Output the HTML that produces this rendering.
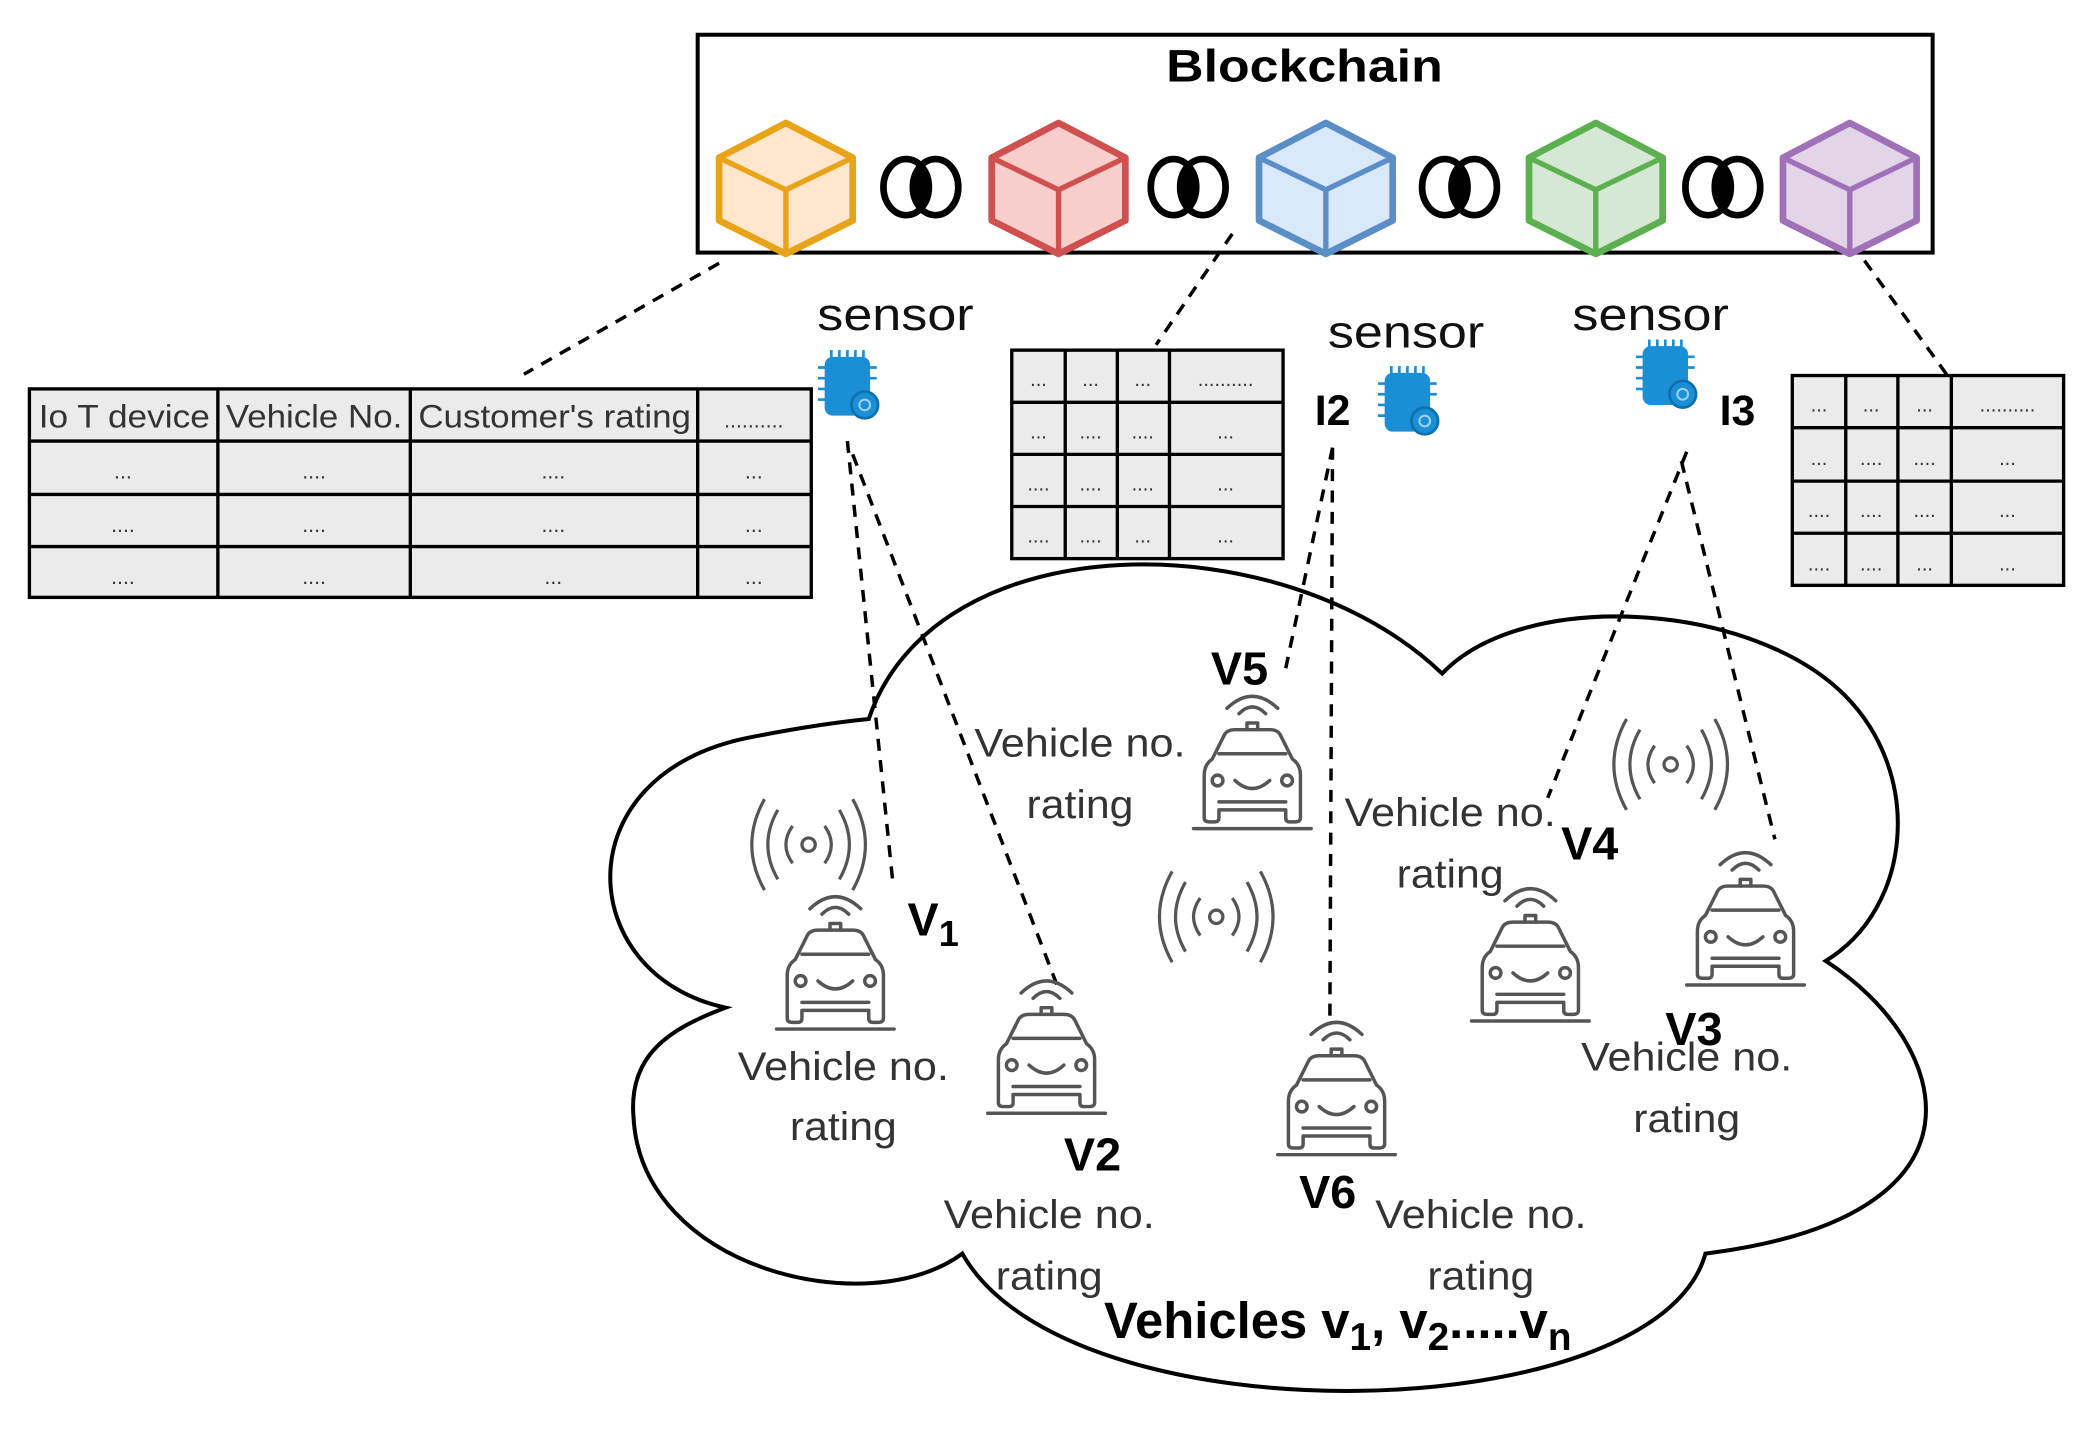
<!DOCTYPE html>
<html><head><meta charset="utf-8"><style>
html,body{margin:0;padding:0;background:#fff}
svg{display:block}
text{font-family:"Liberation Sans",Arial,sans-serif}
</style></head><body>
<svg width="2085" height="1434" viewBox="0 0 1560 1073" preserveAspectRatio="none" xmlns="http://www.w3.org/2000/svg">
<defs>
<g id="cube">
<path d="M0,-50 L50,-24 L50,23 L0,48 L-50,23 L-50,-24 Z" stroke-width="5" stroke-linejoin="round"/>
<path d="M-50,-24 L0,0 L50,-24 M0,0 L0,48" fill="none" stroke-width="4"/>
</g>
<g id="link">
<ellipse cx="-11" cy="0" rx="17" ry="21" fill="none" stroke="#000" stroke-width="5"/>
<ellipse cx="11" cy="0" rx="17" ry="21" fill="none" stroke="#000" stroke-width="5"/>
<path d="M0,-16 Q8,0 0,16 Q-8,0 0,-16Z" fill="#000"/>
</g>
<g id="car" fill="none" stroke="#555" stroke-width="2.6" stroke-linecap="round" stroke-linejoin="round">
<line x1="-44" y1="0" x2="44" y2="0"/>
<path d="M-36,-8 L-36,-40 Q-36,-48 -30,-52 L-21,-70 Q-19,-74 -13,-74 L13,-74 Q19,-74 21,-70 L30,-52 Q36,-48 36,-40 L36,-8 Q36,-5 32,-5 L28,-5 Q25,-5 25,-8 L25,-14 L-25,-14 L-25,-8 Q-25,-5 -28,-5 L-32,-5 Q-36,-5 -36,-8 Z"/>
<line x1="-25" y1="-56" x2="25" y2="-56"/>
<line x1="-25" y1="-20" x2="25" y2="-20"/>
<circle cx="-26" cy="-36" r="4"/><circle cx="26" cy="-36" r="4"/>
<path d="M-13,-36 Q0,-24 13,-36"/>
<path d="M-4,-74 L-4,-79 L4,-79 L4,-74"/>
<path d="M-10,-86 Q0,-96 10,-86"/>
<path d="M-19,-90 Q0,-108 19,-90"/>
</g>
<g id="wifi" fill="none" stroke="#555" stroke-width="2.4">
<circle cx="0" cy="0" r="5"/>
<path d="M-12,-14 Q-22,0 -12,14 M12,-14 Q22,0 12,14"/>
<path d="M-23,-26 Q-38,0 -23,26 M23,-26 Q38,0 23,26"/>
<path d="M-33,-34 Q-52,0 -33,34 M33,-34 Q52,0 33,34"/>
</g>
<g id="chip">
<rect x="-17" y="-22" width="34" height="44" rx="6" fill="#1a8fd6"/>
<path d="M-12,-27 v6 M-6,-27 v6 M0,-27 v6 M6,-27 v6 M12,-27 v6 M-22,-14 h6 M-22,-6 h6 M-22,2 h6 M-22,10 h6 M16,-14 h6 M16,-6 h6" stroke="#1a8fd6" stroke-width="2"/>
<circle cx="13" cy="14" r="10" fill="#1a8fd6" stroke="#0d6fb0" stroke-width="2"/>
<circle cx="13" cy="14" r="4" fill="none" stroke="#9fd3f5" stroke-width="1.5"/>
</g>
</defs>

<!-- Blockchain box -->
<rect x="522" y="26" width="924" height="163" fill="#fff" stroke="#000" stroke-width="3"/>
<text x="976" y="61" font-size="34" font-weight="bold" text-anchor="middle" textLength="207" lengthAdjust="spacingAndGlyphs">Blockchain</text>
<use href="#cube" x="588" y="142" fill="#ffe6cc" stroke="#e8a317"/>
<use href="#cube" x="792" y="142" fill="#f8cecc" stroke="#d05050"/>
<use href="#cube" x="992" y="142" fill="#dae8fc" stroke="#5b8ec6"/>
<use href="#cube" x="1194" y="142" fill="#d5e8d4" stroke="#5cb050"/>
<use href="#cube" x="1384" y="142" fill="#e1d5e7" stroke="#a070b8"/>
<use href="#link" x="689" y="140"/>
<use href="#link" x="889" y="140"/>
<use href="#link" x="1092" y="140"/>
<use href="#link" x="1289" y="140"/>

<!-- Cloud -->
<path d="M650,538 C700,390 960,390 1079,504 C1140,440 1310,450 1380,520 C1440,580 1430,680 1366,719 C1460,780 1500,910 1276,938 C1240,1070 800,1080 720,938 C650,990 480,950 474,836 C470,790 500,770 543,754 C430,730 420,580 560,552 C600,544 630,540 650,538 Z" fill="#fff" stroke="#000" stroke-width="3"/>

<!-- Dashed connectors -->
<g stroke="#000" stroke-width="2.6" stroke-dasharray="9,7" fill="none">
<line x1="538" y1="197" x2="392" y2="280"/>
<line x1="922" y1="175" x2="865" y2="258"/>
<line x1="1395" y1="195" x2="1460" y2="285"/>
<line x1="634" y1="330" x2="668" y2="660"/>
<line x1="638" y1="340" x2="792" y2="740"/>
<line x1="997" y1="335" x2="962" y2="500"/>
<line x1="997" y1="335" x2="995" y2="765"/>
<line x1="1262" y1="338" x2="1158" y2="597"/>
<line x1="1258" y1="345" x2="1328" y2="628"/>
</g>

<!-- Left table -->
<g stroke="#000" stroke-width="2.5" fill="#ebebeb">
<rect x="22" y="291" width="585" height="156"/>
<path d="M22,330 H607 M22,370 H607 M22,409 H607 M163,291 V447 M307,291 V447 M522,291 V447" fill="none"/>
</g>
<g font-size="24" fill="#333" text-anchor="middle">
<text x="93" y="320" textLength="128" lengthAdjust="spacingAndGlyphs">Io T device</text>
<text x="235" y="320" textLength="132" lengthAdjust="spacingAndGlyphs">Vehicle No.</text>
<text x="415" y="320" textLength="204" lengthAdjust="spacingAndGlyphs">Customer's rating</text>
<text x="564" y="320" font-size="16">..........</text>
<g font-size="16"><text x="92" y="358">...</text><text x="235" y="358">....</text><text x="414" y="358">....</text><text x="564" y="358">...</text>
<text x="92" y="398">....</text><text x="235" y="398">....</text><text x="414" y="398">....</text><text x="564" y="398">...</text>
<text x="92" y="437">....</text><text x="235" y="437">....</text><text x="414" y="437">...</text><text x="564" y="437">...</text></g>
</g>

<!-- Middle table -->
<g stroke="#000" stroke-width="2.5" fill="#ebebeb">
<rect x="757" y="262" width="203" height="156"/>
<path d="M757,301 H960 M757,340 H960 M757,379 H960 M797,262 V418 M836,262 V418 M875,262 V418" fill="none"/>
</g>
<g font-size="15" fill="#333" text-anchor="middle">
<text x="777" y="289">...</text><text x="816" y="289">...</text><text x="855" y="289">...</text><text x="917" y="289">..........</text>
<text x="777" y="328">...</text><text x="816" y="328">....</text><text x="855" y="328">....</text><text x="917" y="328">...</text>
<text x="777" y="367">....</text><text x="816" y="367">....</text><text x="855" y="367">....</text><text x="917" y="367">...</text>
<text x="777" y="406">....</text><text x="816" y="406">....</text><text x="855" y="406">...</text><text x="917" y="406">...</text>
</g>

<!-- Right table -->
<g stroke="#000" stroke-width="2.5" fill="#ebebeb">
<rect x="1341" y="281" width="203" height="157"/>
<path d="M1341,320 H1544 M1341,360 H1544 M1341,399 H1544 M1381,281 V438 M1420,281 V438 M1460,281 V438" fill="none"/>
</g>
<g font-size="15" fill="#333" text-anchor="middle">
<text x="1361" y="308">...</text><text x="1400" y="308">...</text><text x="1440" y="308">...</text><text x="1502" y="308">..........</text>
<text x="1361" y="348">...</text><text x="1400" y="348">....</text><text x="1440" y="348">....</text><text x="1502" y="348">...</text>
<text x="1361" y="387">....</text><text x="1400" y="387">....</text><text x="1440" y="387">....</text><text x="1502" y="387">...</text>
<text x="1361" y="427">....</text><text x="1400" y="427">....</text><text x="1440" y="427">...</text><text x="1502" y="427">...</text>
</g>

<!-- Sensors -->
<g font-size="34" fill="#111">
<text x="670" y="247" text-anchor="middle" textLength="117" lengthAdjust="spacingAndGlyphs">sensor</text>
<text x="1052" y="260" text-anchor="middle" textLength="117" lengthAdjust="spacingAndGlyphs">sensor</text>
<text x="1235" y="247" text-anchor="middle" textLength="117" lengthAdjust="spacingAndGlyphs">sensor</text>
</g>
<use href="#chip" x="634" y="289"/>
<use href="#chip" x="1053" y="301"/>
<use href="#chip" x="1246" y="281"/>
<text x="997" y="318" font-size="32" font-weight="bold" text-anchor="middle">I2</text>
<text x="1300" y="318" font-size="32" font-weight="bold" text-anchor="middle">I3</text>

<!-- Wifi icons -->
<use href="#wifi" x="605" y="632"/>
<use href="#wifi" x="910" y="686"/>
<use href="#wifi" x="1250" y="572"/>

<!-- Cars -->
<use href="#car" x="625" y="770"/>
<use href="#car" x="783" y="833"/>
<use href="#car" x="937" y="620"/>
<use href="#car" x="1000" y="864"/>
<use href="#car" x="1145" y="764"/>
<use href="#car" x="1306" y="737"/>

<!-- Labels -->
<g font-size="30" fill="#333" text-anchor="middle">
<text x="631" y="808" textLength="158" lengthAdjust="spacingAndGlyphs">Vehicle no.</text><text x="631" y="853" textLength="80" lengthAdjust="spacingAndGlyphs">rating</text>
<text x="808" y="566" textLength="158" lengthAdjust="spacingAndGlyphs">Vehicle no.</text><text x="808" y="612" textLength="80" lengthAdjust="spacingAndGlyphs">rating</text>
<text x="1085" y="618" textLength="158" lengthAdjust="spacingAndGlyphs">Vehicle no.</text><text x="1085" y="664" textLength="80" lengthAdjust="spacingAndGlyphs">rating</text>
<text x="1262" y="801" textLength="158" lengthAdjust="spacingAndGlyphs">Vehicle no.</text><text x="1262" y="847" textLength="80" lengthAdjust="spacingAndGlyphs">rating</text>
<text x="785" y="919" textLength="158" lengthAdjust="spacingAndGlyphs">Vehicle no.</text><text x="785" y="965" textLength="80" lengthAdjust="spacingAndGlyphs">rating</text>
<text x="1108" y="919" textLength="158" lengthAdjust="spacingAndGlyphs">Vehicle no.</text><text x="1108" y="965" textLength="80" lengthAdjust="spacingAndGlyphs">rating</text>
</g>
<g font-size="35" font-weight="bold" fill="#000">
<text x="679" y="700">V<tspan font-size="27" dy="8">1</tspan></text>
<text x="796" y="876">V2</text>
<text x="906" y="512">V5</text>
<text x="1168" y="643">V4</text>
<text x="1246" y="782">V3</text>
<text x="972" y="904">V6</text>
<text x="826" y="1001" font-size="38">Vehicles v<tspan font-size="29" dy="9">1</tspan><tspan dy="-9">, v</tspan><tspan font-size="29" dy="9">2</tspan><tspan dy="-9">.....v</tspan><tspan font-size="29" dy="9">n</tspan></text>
</g>
</svg>
</body></html>
